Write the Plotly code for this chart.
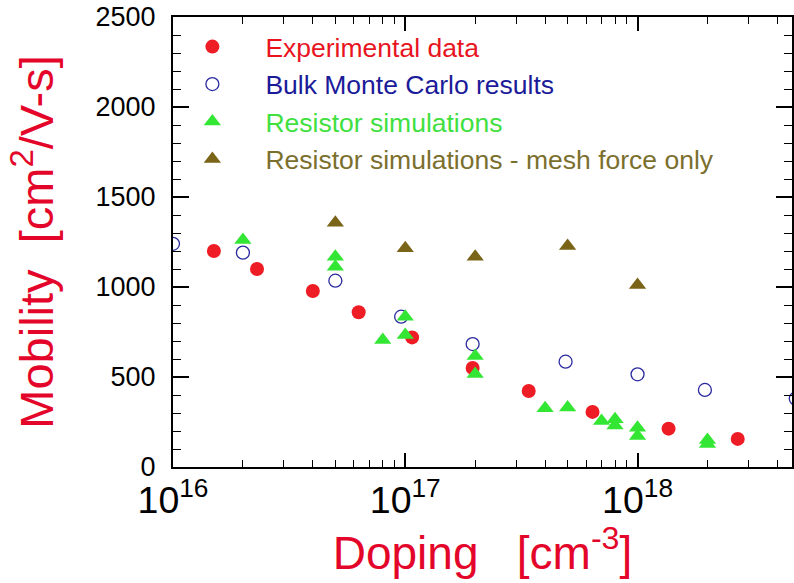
import plotly.graph_objects as go

# Experimental data
exp_x = [1.5e16, 2.3e16, 4.0e16, 6.3e16, 1.07e17, 1.95e17, 3.4e17, 6.4e17, 1.36e18, 2.7e18]
exp_y = [1200, 1100, 978, 860, 720, 550, 422, 306, 213, 156]

# Bulk Monte Carlo results
mc_x = [1.0e16, 2.0e16, 5.0e16, 9.6e16, 1.95e17, 4.9e17, 1.0e18, 1.95e18, 4.8e18]
mc_y = [1240, 1191, 1035, 835, 683, 585, 515, 428, 380]

# Resistor simulations
rs_x = [2.0e16, 5.0e16, 5.0e16, 8.0e16, 1.0e17, 1.0e17, 2.0e17, 2.0e17, 4.0e17, 5.0e17,
        7.0e17, 8.0e17, 8.0e17, 1.0e18, 1.0e18, 2.0e18, 2.0e18]
rs_y = [1261, 1168, 1113, 706, 835, 733, 617, 517, 326, 330,
        256, 265, 230, 218, 172, 150, 128]

# Resistor simulations - mesh force only
mf_x = [5.0e16, 1.0e17, 2.0e17, 5.0e17, 1.0e18]
mf_y = [1357, 1215, 1168, 1228, 1011]

legend_names = ["Experimental data", "Bulk Monte Carlo results",
                "Resistor simulations", "Resistor simulations - mesh force only"]
text_colors = ["#e8141f", "#1b1b9a", "#3fe03f", "#7b6f2e"]
marker_colors = ["#ee1c24", "#2a2aa0", "#33e633", "#7a6418"]

FONT = "Arial, Liberation Sans, sans-serif"
TITLE_RED = "#e4062a"


def lname(i):
    return '<span style="color:%s">%s</span>' % (text_colors[i], legend_names[i])


fig = go.Figure()
fig.add_trace(go.Scatter(x=exp_x, y=exp_y, mode="markers", name=lname(0),
                         marker=dict(symbol="circle", size=14, color=marker_colors[0],
                                     line=dict(width=0))))
fig.add_trace(go.Scatter(x=mc_x, y=mc_y, mode="markers", name=lname(1),
                         marker=dict(symbol="circle-open", size=13, color=marker_colors[1],
                                     line=dict(width=1.3, color=marker_colors[1]))))
fig.add_trace(go.Scatter(x=rs_x, y=rs_y, mode="markers", name=lname(2),
                         marker=dict(symbol="triangle-up", size=15, color=marker_colors[2],
                                     line=dict(width=0))))
fig.add_trace(go.Scatter(x=mf_x, y=mf_y, mode="markers", name=lname(3),
                         marker=dict(symbol="triangle-up", size=15, color=marker_colors[3],
                                     line=dict(width=0))))

fig.update_layout(
    width=794, height=583,
    margin=dict(l=173, r=0, t=17, b=116),
    paper_bgcolor="white", plot_bgcolor="white",
    font=dict(family=FONT, color="black"),
    showlegend=True,
    legend=dict(x=-0.022, y=0.987, xanchor="left", yanchor="top",
                bgcolor="rgba(0,0,0,0)", borderwidth=0,
                font=dict(size=26.5, family=FONT),
                itemwidth=96),
    xaxis=dict(
        type="log", range=[16, 18.665],
        showline=True, linecolor="black", linewidth=2, mirror="ticks",
        ticks="inside", ticklen=14, tickwidth=1.5, tickcolor="black",
        dtick=1, exponentformat="power", showexponent="all",
        tickfont=dict(size=30, family=FONT, color="black"),
        showgrid=False, zeroline=False,
        minor=dict(ticks="inside", ticklen=7, tickwidth=1.2, tickcolor="black",
                   dtick="D1", showgrid=False),
        title=dict(text="Doping   [cm<sup>-3</sup>]",
                   font=dict(size=46, color=TITLE_RED, family=FONT), standoff=0),
    ),
    yaxis=dict(
        range=[0, 2500],
        showline=True, linecolor="black", linewidth=2, mirror="ticks",
        ticks="inside", ticklen=16, tickwidth=1.5, tickcolor="black",
        dtick=500, tickfont=dict(size=27, family=FONT, color="black"),
        ticklabelstandoff=10,
        showgrid=False, zeroline=False,
        minor=dict(ticks="inside", ticklen=8, tickwidth=1.2, tickcolor="black",
                   dtick=100, showgrid=False),
        title=dict(text="Mobility  [cm<sup>2</sup>/V-s]",
                   font=dict(size=47, color=TITLE_RED, family=FONT), standoff=27),
    ),
)

fig.write_html("out.html")
